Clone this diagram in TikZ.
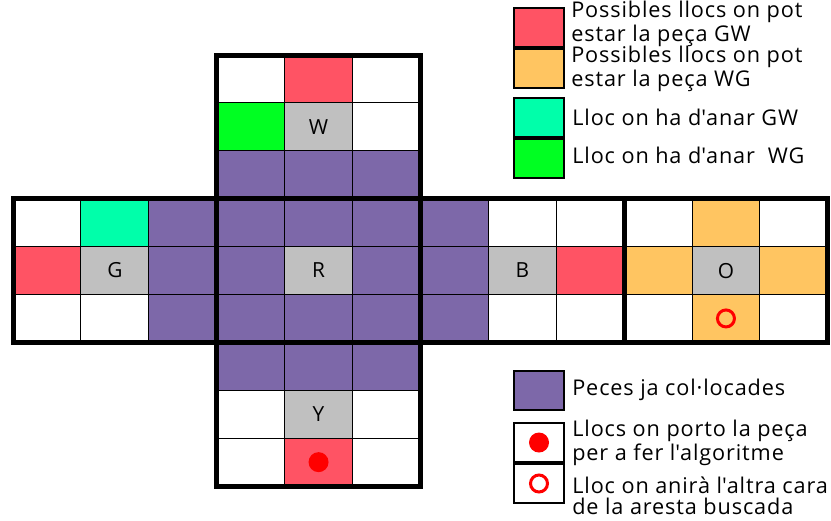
\documentclass[tikz,border=0pt]{standalone}
\usepackage{fontspec}
\setmainfont{Open Sans}[LetterSpace=4]
\usepackage{xcolor}
\usetikzlibrary{positioning}

\definecolor{gwred}{RGB}{255,83,100}
\definecolor{wgorange}{RGB}{255,197,97}
\definecolor{gwmint}{RGB}{0,255,170}
\definecolor{wggreen}{RGB}{0,255,34}
\definecolor{donepurple}{RGB}{125,104,169}
\definecolor{centregray}{RGB}{192,192,192}

\begin{document}
\begin{tikzpicture}[
    x=0.6pt, y=-0.6pt,
    face/.style={draw, line width=3pt},
    cellline/.style={draw, line width=0.6pt},
    lbl/.style={font=\fontsize{12.5}{13}\selectfont, inner sep=0pt},
    legbox/.style={draw, line width=1.2pt, minimum width=30pt, minimum height=23.4pt, inner sep=0pt},
    legtext/.style={font=\fontsize{13}{12.6}\selectfont, align=left, inner sep=0pt, anchor=base west},
    dotfill/.style={circle, fill=red, minimum size=12pt, inner sep=0pt},
    dotring/.style={circle, draw=red, line width=1.8pt, minimum size=10.2pt, inner sep=0pt}
]
    \useasboundingbox[fill=white] (0,0) rectangle (831,520);

    % Cube net, one unit per sticker
    \begin{scope}[xshift=7.8pt, yshift=-33pt, x=40.74pt, y=-28.74pt]
        % Pieces already placed
        \fill[donepurple] (2,3) rectangle (7,6);
        \fill[donepurple] (3,2) rectangle (6,7);
        % Centres
        \foreach \c/\r in {4/1,1/4,4/4,7/4,10/4,4/7}
            \fill[centregray] (\c,\r) rectangle ++(1,1);
        % Where GW and WG may be
        \foreach \c/\r/\col in {4/0/gwred,0/4/gwred,8/4/gwred,4/8/gwred,
                                10/3/wgorange,9/4/wgorange,11/4/wgorange,10/5/wgorange,
                                1/3/gwmint,3/1/wggreen}
            \fill[\col] (\c,\r) rectangle ++(1,1);

        % Sticker lines
        \foreach \x in {4,5}
            \draw[cellline] (\x,0) -- (\x,9);
        \foreach \x in {1,2,7,8,10,11}
            \draw[cellline] (\x,3) -- (\x,6);
        \foreach \y in {1,2,7,8}
            \draw[cellline] (3,\y) -- (6,\y);
        \foreach \y in {4,5}
            \draw[cellline] (0,\y) -- (12,\y);

        % Faces
        \foreach \c/\r in {3/0,0/3,3/3,6/3,9/3,3/6}
            \draw[face] (\c,\r) rectangle ++(3,3);

        % Face letters
        \node[lbl] (W) at (4.5,1.5) {W};
        \node[lbl] (G) at (1.5,4.5) {G};
        \node[lbl] (R) at (4.5,4.5) {R};
        \node[lbl] (B) at (7.5,4.5) {B};
        \node[lbl] (O) at (10.5,4.5) {O};
        \node[lbl] (Y) at (4.5,7.5) {Y};

        % Marks
        \node[dotfill] (porto) at (4.5,8.5) {};
        \node[dotring] (altra) at (10.5,5.5) {};
    \end{scope}

    % Legend
    \node[legbox, fill=gwred, anchor=north west] (keyGW) at (513,7) {};
    \node[legbox, fill=wgorange, below=0pt of keyGW] (keyWG) {};
    \node[legbox, fill=gwmint, anchor=north west] (keyToGW) at (513,97) {};
    \node[legbox, fill=wggreen, below=0pt of keyToGW] (keyToWG) {};
    \node[legbox, fill=donepurple, anchor=north west] (keyDone) at (513,370) {};
    \node[legbox, anchor=north west] (keyDot) at (513,422) {};
    \node[legbox, below=0pt of keyDot] (keyRing) {};
    \node[dotfill] (keyDotMark) at (keyDot) {};
    \node[dotring] (keyRingMark) at (keyRing) {};

    \node[legtext] (txtGW) at (571,41) {Possibles llocs on pot\\estar la peça GW};
    \node[legtext] (txtWG) at (571,86) {Possibles llocs on pot\\estar la peça WG};
    \node[legtext] (txtToGW) at (572,125) {Lloc on ha d\textquotesingle anar GW};
    \node[legtext] (txtToWG) at (572,163) {Lloc on ha d\textquotesingle anar \ WG};
    \node[legtext] (txtDone) at (572,395) {Peces ja col·locades};
    \node[legtext] (txtDot) at (572,460) {Llocs on porto la peça\\per a fer l\textquotesingle algoritme};
    \node[legtext] (txtRing) at (572,514) {Lloc on anirà l\textquotesingle altra cara\\de la aresta buscada};
\end{tikzpicture}
\end{document}
